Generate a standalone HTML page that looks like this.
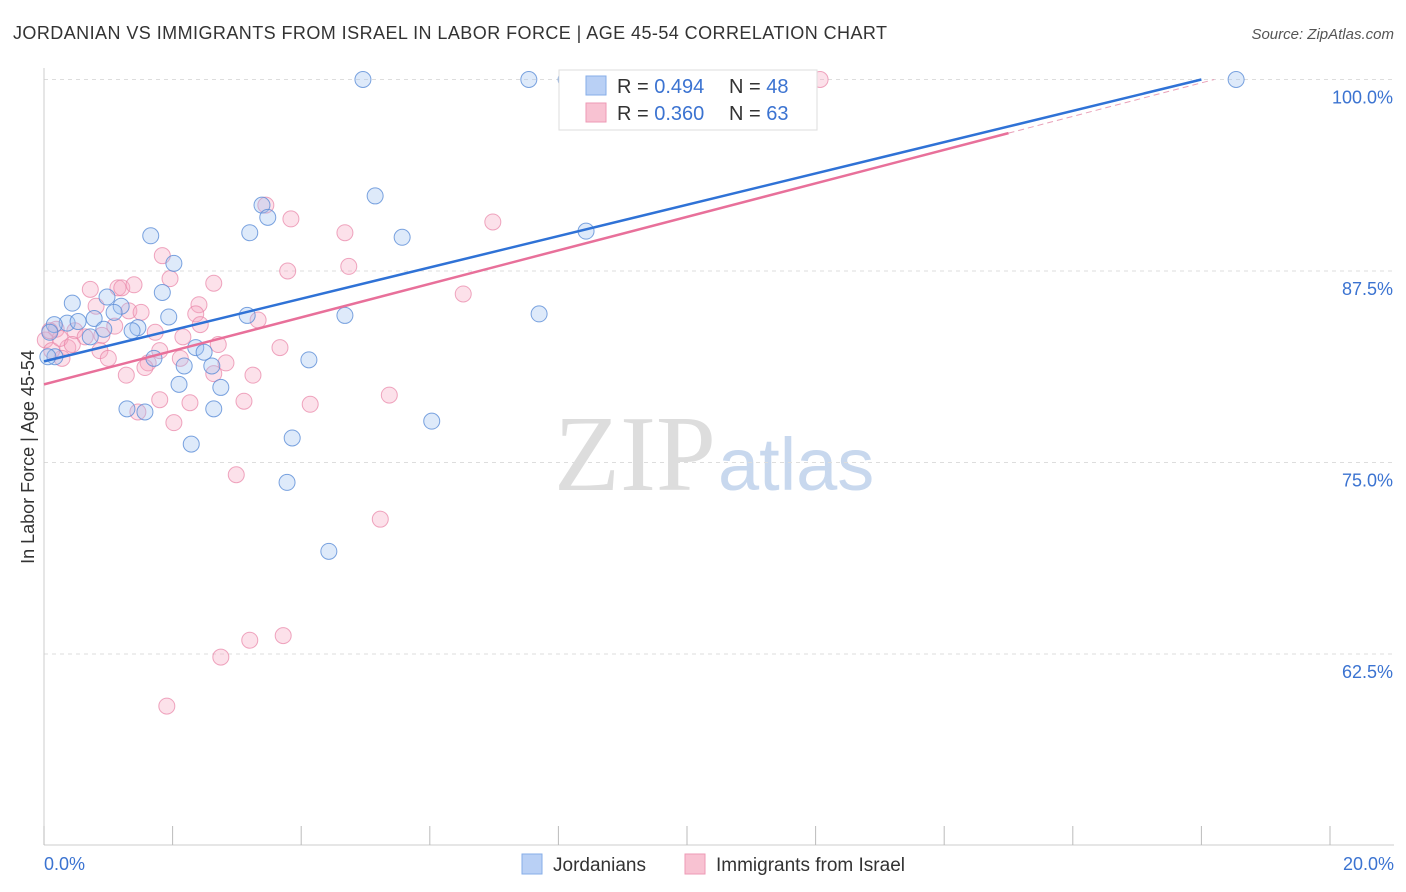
<!DOCTYPE html>
<html><head><meta charset="utf-8"><style>
body{margin:0;background:#fff;font-family:"Liberation Sans",sans-serif;}
svg{display:block}
</style></head><body>
<svg id="c" width="1406" height="892">
<text x="13" y="39" font-size="18" fill="#333" textLength="874" lengthAdjust="spacing">JORDANIAN VS IMMIGRANTS FROM ISRAEL IN LABOR FORCE | AGE 45-54 CORRELATION CHART</text>
<text x="1394" y="39" font-size="15" fill="#555" text-anchor="end" font-style="italic">Source: ZipAtlas.com</text>
<text x="716" y="490" font-size="108" fill="#ddd" text-anchor="end" font-family="Liberation Serif,serif">ZIP</text>
<text x="718" y="490" font-size="74" fill="#c8d8ee">atlas</text>
<text transform="translate(34,457) rotate(-90)" font-size="18" fill="#333" text-anchor="middle">In Labor Force | Age 45-54</text>
<g id="grid"></g><g id="pts"></g><g id="lines"></g>
<g>
<rect x="559" y="70" width="258" height="60" fill="#fff" stroke="#ddd"/>
<rect x="586" y="76" width="20" height="19" fill="#b9d0f5" stroke="#86aee8"/>
<rect x="586" y="103" width="20" height="19" fill="#f8c2d2" stroke="#ee9ab5"/>
<text x="617" y="93" font-size="20" fill="#333">R = <tspan fill="#3b73d1">0.494</tspan></text>
<text x="729" y="93" font-size="20" fill="#333">N = <tspan fill="#3b73d1">48</tspan></text>
<text x="617" y="120" font-size="20" fill="#333">R = <tspan fill="#3b73d1">0.360</tspan></text>
<text x="729" y="120" font-size="20" fill="#333">N = <tspan fill="#3b73d1">63</tspan></text>
</g>
<g>
<rect x="522" y="854" width="20" height="20" fill="#b9d0f5" stroke="#86aee8"/>
<text x="553" y="871" font-size="19" fill="#333">Jordanians</text>
<rect x="685" y="854" width="20" height="20" fill="#f8c2d2" stroke="#ee9ab5"/>
<text x="716" y="871" font-size="19" fill="#333">Immigrants from Israel</text>
</g>
</svg>
<script>
const yTicks=[100,87.5,75,62.5];
const yTickLabels=["100.0%","87.5%","75.0%","62.5%"];
const blueX=[4.96,7.54,8.12,18.54,5.15,3.39,3.48,1.66,3.20,5.57,8.43,2.02,1.84,0.44,0.98,1.20,1.09,0.78,0.36,0.16,0.53,0.93,1.46,1.37,0.72,1.94,3.16,4.68,7.70,2.36,2.49,1.71,2.18,2.61,4.12,0.17,2.10,2.75,1.29,1.57,2.64,6.03,3.86,2.29,3.78,4.43,0.06,0.09];
const blueY=[100,100,100,100,92.4,91.8,91.0,89.8,90.0,89.7,90.1,88.0,86.1,85.4,85.8,85.2,84.8,84.4,84.1,84.0,84.2,83.7,83.8,83.6,83.2,84.5,84.6,84.6,84.7,82.5,82.2,81.8,81.3,81.3,81.7,81.9,80.1,79.9,78.5,78.3,78.5,77.7,76.6,76.2,73.7,69.2,81.9,83.5];
const pinkX=[11.85,12.07,8.48,3.45,3.84,6.98,4.68,1.84,3.79,4.74,1.96,2.64,0.72,1.15,1.21,1.40,6.52,0.81,2.41,1.32,1.51,2.36,3.33,0.19,0.48,1.73,0.64,0.90,2.16,2.71,3.67,0.37,0.87,1.00,1.62,2.12,2.83,0.28,1.57,1.28,3.25,2.64,5.37,1.80,3.11,2.27,4.14,1.46,2.02,2.99,5.23,3.72,3.20,2.75,1.91,0.02,0.12,0.25,0.44,1.10,2.43,1.80,0.09];
const pinkY=[100,100,98.2,91.8,90.9,90.7,90.0,88.5,87.5,87.8,87.0,86.7,86.3,86.4,86.4,86.6,86.0,85.2,85.3,84.9,84.8,84.7,84.3,83.7,83.6,83.5,83.2,83.3,83.2,82.7,82.5,82.5,82.3,81.8,81.5,81.8,81.5,81.8,81.2,80.7,80.7,80.8,79.4,79.1,79.0,78.9,78.8,78.3,77.6,74.2,71.3,63.7,63.4,62.3,59.1,83.0,82.3,83.1,82.7,83.9,84.0,82.3,83.6];
const blueLine=[0,81.6,18,100];
const pinkLine=[0,80.1,15.0,96.5,18.2,100];
const X=v=>44+v*64.3, Y=v=>79.5+(100-v)*15.32;
const ns="http://www.w3.org/2000/svg";
function mk(t,a,p){const e=document.createElementNS(ns,t);for(const k in a)e.setAttribute(k,a[k]);document.getElementById(p).appendChild(e);return e;}
yTicks.forEach((v,i)=>{
 const l=mk('line',{x1:44,x2:1394,y1:Y(v),y2:Y(v),stroke:'#ddd','stroke-dasharray':'4,4'},'grid');
 
 
 const t=mk('text',{x:1393,y:Y(v)+24,'font-size':18,fill:'#3b73d1','text-anchor':'end'},'grid');t.textContent=yTickLabels[i];
 
 
});
mk('line',{x1:44,x2:44,y1:68,y2:845,stroke:'#ccc'},'grid');
mk('line',{x1:44,x2:1394,y1:845,y2:845,stroke:'#ccc'},'grid');
for(let i=0;i<=10;i++){const l=mk('line',{x1:X(i*2),x2:X(i*2),y1:826,y2:845,stroke:'#bbb'},'grid');
 
 }
let t=mk('text',{x:44,y:870,'font-size':18,fill:'#3b73d1'},'grid');t.textContent='0.0%';


t=mk('text',{x:1394,y:870,'font-size':18,fill:'#3b73d1','text-anchor':'end'},'grid');t.textContent='20.0%';


pinkX.forEach((x,i)=>{const c=mk('circle',{cx:X(x),cy:Y(pinkY[i]),r:8,fill:'rgba(246,170,195,0.35)',stroke:'rgba(232,130,165,0.7)'},'pts');
 
 });
blueX.forEach((x,i)=>{const c=mk('circle',{cx:X(x),cy:Y(blueY[i]),r:8,fill:'rgba(160,195,240,0.35)',stroke:'rgba(90,140,215,0.8)'},'pts');
 
 });
let l=mk('line',{x1:X(blueLine[0]),y1:Y(blueLine[1]),x2:X(blueLine[2]),y2:Y(blueLine[3]),stroke:'#2f72d6','stroke-width':2.5},'lines');


l=mk('line',{x1:X(pinkLine[0]),y1:Y(pinkLine[1]),x2:X(pinkLine[2]),y2:Y(pinkLine[3]),stroke:'#e8709a','stroke-width':2.5},'lines');


l=mk('line',{x1:X(pinkLine[2]),y1:Y(pinkLine[3]),x2:X(pinkLine[4]),y2:Y(pinkLine[5]),stroke:'#e8a0b8','stroke-width':1,'stroke-dasharray':'6,4'},'lines');


</script>
</body></html>
